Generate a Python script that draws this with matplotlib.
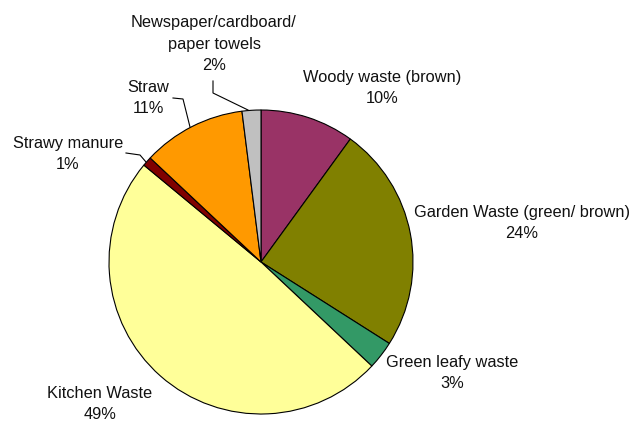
import matplotlib
matplotlib.use("Agg")
import matplotlib.pyplot as plt

# Composting material shares (percent), clockwise from 12 o'clock
categories = [
    "Woody waste (brown)",
    "Garden Waste (green/ brown)",
    "Green leafy waste",
    "Kitchen Waste",
    "Strawy manure",
    "Straw",
    "Newspaper/cardboard/\npaper towels",
]
shares = [10, 24, 3, 49, 1, 11, 2]
colors = ["#993366", "#808000", "#339966", "#FFFF99", "#800000", "#FF9900", "#C0C0C0"]

W, H = 632, 421
fig = plt.figure(figsize=(W / 100, H / 100), dpi=100)
ax = fig.add_axes([0, 0, 1, 1])
ax.set_xlim(0, W)
ax.set_ylim(0, H)
ax.set_aspect("equal")
ax.axis("off")

cx, cy, r = 261, H - 262, 152
ax.pie(shares, colors=colors, startangle=90, counterclock=False,
       center=(cx, cy), radius=r,
       wedgeprops=dict(edgecolor="black", linewidth=0.8))
ax.set_xlim(0, W)
ax.set_ylim(0, H)

# label anchor positions in pixel space (x, y from top)
label_pos = [
    (382, 88),
    (522, 223),
    (452, 373),
    (100, 404),
    (68, 154),
    (148, 98),
    (214, 44),
]
font = dict(family=["Liberation Sans", "DejaVu Sans"], fontsize=11.8, color="#111111")
for name, val, (x, y) in zip(categories, shares, label_pos):
    ax.text(x, H - y, f"{name}\n{val}%", ha="center", va="center",
            linespacing=1.58, **font)

# leader lines for the small slices near the top-left
leaders = [
    [(213, 81), (213, 93), (248, 110)],
    [(173, 98), (183, 99), (190, 127)],
    [(126, 153), (140, 155), (146, 162)],
]
for pts in leaders:
    xs = [p[0] for p in pts]
    ys = [H - p[1] for p in pts]
    ax.plot(xs, ys, color="black", linewidth=0.8)

fig.savefig("out.png", dpi=100)
